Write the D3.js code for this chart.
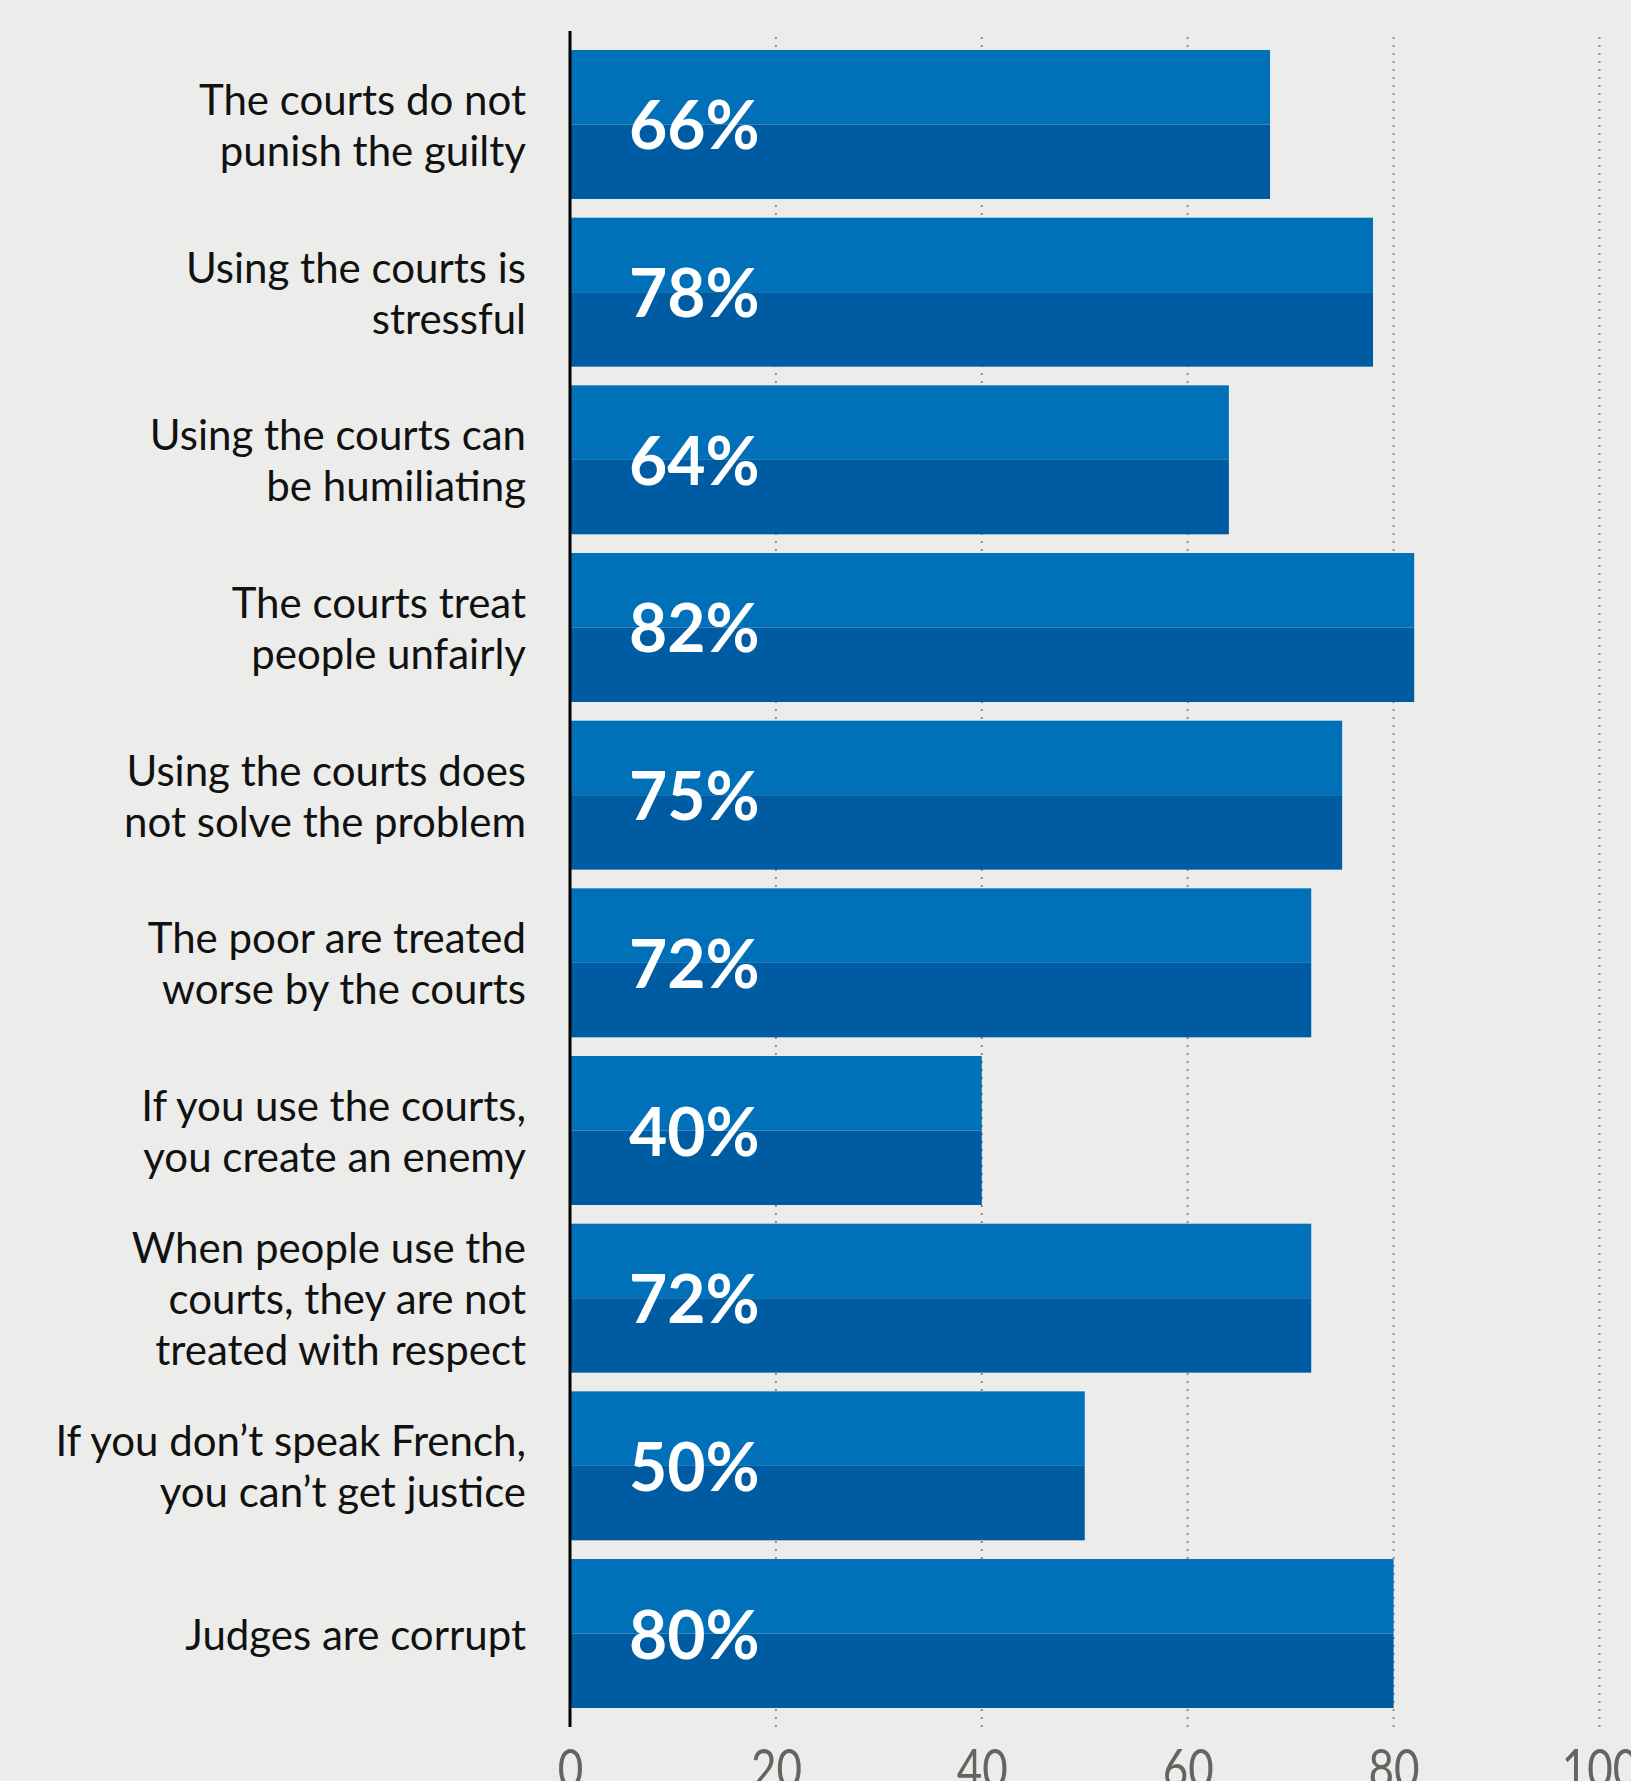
<!DOCTYPE html>
<html>
<head>
<meta charset="utf-8">
<script src="https://cdn.jsdelivr.net/npm/d3@7"></script>
<style>
  body { margin: 0; background: #ecedeb; overflow: hidden; }
  svg { display: block; }
</style>
</head>
<body>
<svg id="chart" width="1631" height="1781"></svg>
<script>
// categories (one entry per bar, lines split by "|")
const categories = [
  "The courts do not|punish the guilty",
  "Using the courts is|stressful",
  "Using the courts can|be humiliating",
  "The courts treat|people unfairly",
  "Using the courts does|not solve the problem",
  "The poor are treated|worse by the courts",
  "If you use the courts,|you create an enemy",
  "When people use the|courts, they are not|treated with respect",
  "If you don’t speak French,|you can’t get justice",
  "Judges are corrupt"
];
// bar lengths as drawn
const values = [68, 78, 64, 82, 75, 72, 40, 72, 50, 80];
// printed labels inside the bars
const valueLabels = ["66%", "78%", "64%", "82%", "75%", "72%", "40%", "72%", "50%", "80%"];
const tickValues = [0, 20, 40, 60, 80, 100];

const svg = d3.select("#chart");

const x = d3.scaleLinear().domain([0, 100]).range([570, 1599.5]);
const y = d3
  .scaleBand()
  .domain(categories)
  .range([50, 1708])
  .paddingInner(0.1115)
  .paddingOuter(0);

// dotted gridlines (behind bars)
svg
  .append("g")
  .selectAll("line")
  .data(tickValues.filter((d) => d > 0))
  .enter()
  .append("line")
  .attr("x1", (d) => x(d))
  .attr("x2", (d) => x(d))
  .attr("y1", 37)
  .attr("y2", 1728)
  .style("stroke", "#8c8c8c")
  .style("stroke-width", 2)
  .style("stroke-dasharray", "2,6");

const data = categories.map((c, i) => ({ cat: c, value: values[i], label: valueLabels[i] }));

const bars = svg.append("g").selectAll("g").data(data).enter().append("g");

// upper (lighter) half
bars
  .append("rect")
  .attr("x", x(0))
  .attr("y", (d) => y(d.cat))
  .attr("width", (d) => x(d.value) - x(0))
  .attr("height", y.bandwidth() / 2)
  .style("fill", "#0070b8");

// lower (darker) half
bars
  .append("rect")
  .attr("x", x(0))
  .attr("y", (d) => y(d.cat) + y.bandwidth() / 2)
  .attr("width", (d) => x(d.value) - x(0))
  .attr("height", y.bandwidth() / 2)
  .style("fill", "#005ca2");

// value labels
bars
  .append("text")
  .attr("x", x(0) + 59)
  .attr("y", (d) => y(d.cat) + y.bandwidth() / 2 + 25)
  .style("font-family", "Lato, 'Open Sans', sans-serif")
  .style("font-weight", 700)
  .style("font-size", "66px")
  .style("fill", "#fff")
  .text((d) => d.label);

// category labels
const lineH = 51;
svg
  .append("g")
  .selectAll("text")
  .data(data)
  .enter()
  .append("text")
  .attr("text-anchor", "end")
  .style("font-family", "Lato, 'Open Sans', sans-serif")
  .style("font-size", "42px")
  .style("fill", "#111")
  .each(function (d) {
    const lines = d.cat.split("|");
    const cy = y(d.cat) + y.bandwidth() / 2;
    const first = cy - ((lines.length - 1) * lineH) / 2 + 16;
    d3.select(this)
      .selectAll("tspan")
      .data(lines)
      .enter()
      .append("tspan")
      .attr("x", 526)
      .attr("y", (l, i) => first + i * lineH)
      .text((l) => l);
  });

// vertical axis line
svg
  .append("line")
  .attr("x1", x(0))
  .attr("x2", x(0))
  .attr("y1", 31)
  .attr("y2", 1727)
  .style("stroke", "#000")
  .style("stroke-width", 3);

// bottom axis labels (cut by the lower edge, as in the source)
const xAxis = d3.axisBottom(x).tickValues(tickValues).tickSize(0).tickPadding(0);
const axisG = svg.append("g").attr("transform", "translate(0,1748)").call(xAxis);
axisG.select(".domain").remove();
axisG
  .selectAll("text")
  .attr("y", 40)
  .attr("dy", null)
  .attr("transform", "scale(0.8,1)")
  .style("font-family", "Lato, sans-serif")
  .style("font-size", "55px")
  .style("fill", "#666361");
</script>
</body>
</html>
